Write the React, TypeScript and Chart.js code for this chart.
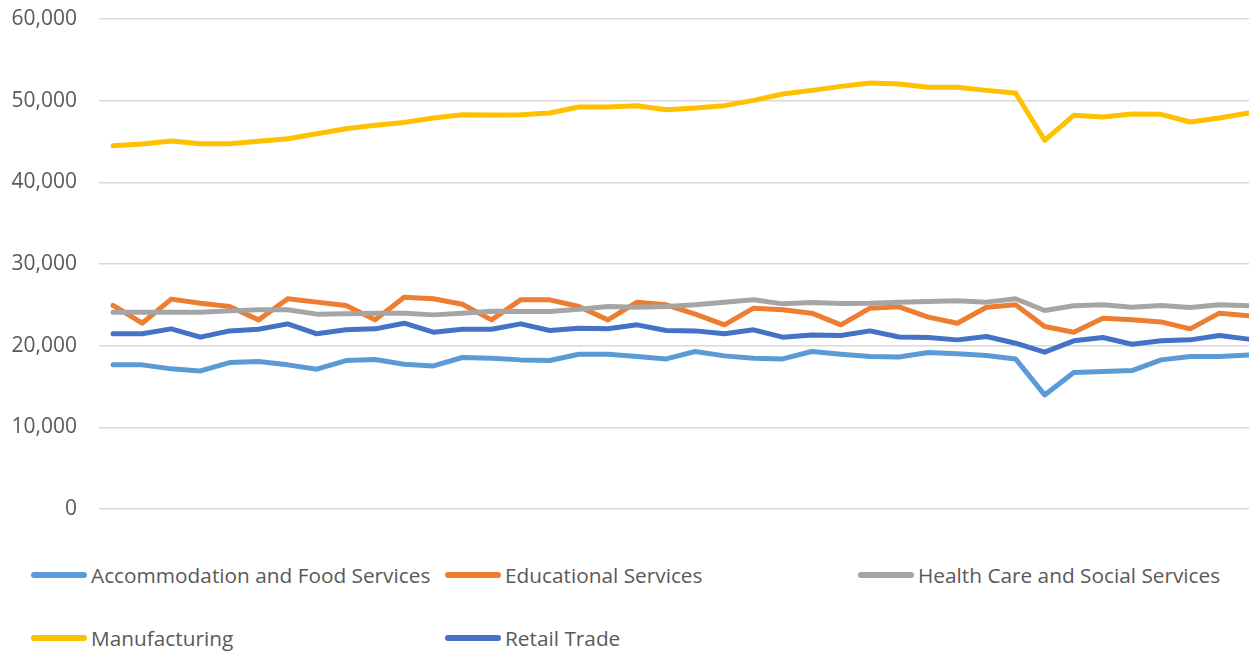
import React, { useEffect, useRef } from "react";
import { Chart, registerables } from "chart.js";

Chart.register(...registerables);

const periods = [
  "1", "2", "3", "4", "5", "6", "7", "8", "9", "10",
  "11", "12", "13", "14", "15", "16", "17", "18", "19", "20",
  "21", "22", "23", "24", "25", "26", "27", "28", "29", "30",
  "31", "32", "33", "34", "35", "36", "37", "38", "39", "40",
];

const accommodation = [
  17650, 17650, 17160, 16910, 17930, 18060, 17650, 17120, 18180, 18300,
  17730, 17520, 18550, 18460, 18260, 18180, 18950, 18950, 18670, 18380,
  19280, 18750, 18460, 18380, 19280, 18950, 18670, 18620, 19160, 19000,
  18790, 18380, 13970, 16710, 16830, 16950, 18260, 18670, 18670, 18870,
];

const educational = [
  24920, 22750, 25700, 25200, 24790, 23160, 25740, 25330, 24920, 23160,
  25940, 25740, 25080, 23160, 25610, 25610, 24790, 23160, 25330, 25000,
  23860, 22550, 24590, 24390, 23980, 22550, 24590, 24750, 23490, 22750,
  24710, 25000, 22340, 21650, 23370, 23160, 22910, 22060, 23980, 23650,
];

const healthCare = [
  24100, 24100, 24100, 24100, 24260, 24390, 24390, 23860, 23900, 23980,
  23980, 23770, 23980, 24220, 24180, 24180, 24470, 24790, 24710, 24790,
  25000, 25330, 25610, 25120, 25290, 25160, 25200, 25330, 25410, 25490,
  25330, 25740, 24300, 24880, 25000, 24710, 24920, 24670, 25000, 24880,
];

const manufacturing = [
  44480, 44690, 45050, 44730, 44730, 45020, 45340, 45950, 46570, 46980,
  47340, 47880, 48280, 48250, 48280, 48490, 49230, 49230, 49390, 48900,
  49100, 49390, 50040, 50820, 51260, 51750, 52170, 52040, 51630, 51630,
  51260, 50940, 45150, 48200, 48000, 48370, 48330, 47390, 47880, 48490,
];

const retailTrade = [
  21450, 21450, 22060, 21040, 21810, 22020, 22670, 21450, 21940, 22060,
  22750, 21650, 22020, 22020, 22670, 21850, 22140, 22060, 22550, 21850,
  21810, 21450, 21940, 21040, 21320, 21240, 21810, 21060, 21000, 20710,
  21120, 20300, 19200, 20590, 21000, 20180, 20590, 20710, 21240, 20800,
];

const seriesNames = [
  "Accommodation and Food Services",
  "Educational Services",
  "Health Care and Social Services",
  "Manufacturing",
  "Retail Trade",
];
const seriesColors = ["#5B9BD5", "#ED7D31", "#A5A5A5", "#FFC000", "#4472C4"];
const seriesValues = [accommodation, educational, healthCare, manufacturing, retailTrade];

const yMin = 0;
const yMax = 60000;
const yStep = 10000;

const FONT = "'Open Sans', 'Noto Sans', sans-serif";
const TEXT_COLOR = "#595959";

export default function App() {
  const canvasRef = useRef<HTMLCanvasElement | null>(null);

  useEffect(() => {
    document.body.style.margin = "0";
    document.body.style.overflow = "hidden";
    const canvas = canvasRef.current;
    if (!canvas) return;
    const n = seriesNames.length;
    const chart = new Chart(canvas, {
      type: "line",
      data: {
        labels: periods,
        datasets: seriesNames.map((name, i) => ({
          label: name,
          data: seriesValues[i],
          borderColor: seriesColors[i],
          backgroundColor: seriesColors[i],
          borderWidth: 5,
          borderCapStyle: "round" as const,
          borderJoinStyle: "round" as const,
          pointRadius: 0,
          tension: 0,
          fill: false,
          order: n - i,
        })),
      },
      options: {
        responsive: true,
        maintainAspectRatio: false,
        animation: false,
        events: [],
        layout: { padding: { top: 19, bottom: 21, left: 0, right: 0 } },
        plugins: {
          legend: { display: false },
          tooltip: { enabled: false },
        },
        scales: {
          x: {
            type: "category",
            display: false,
            offset: true,
            grid: { display: false },
          },
          y: {
            min: yMin,
            max: yMax,
            border: { display: false },
            grid: {
              color: "#D9D9D9",
              lineWidth: 1.5,
              drawTicks: false,
            },
            ticks: {
              stepSize: yStep,
              padding: 21.5,
              color: TEXT_COLOR,
              font: { family: FONT, size: 21 },
              callback: (v: any) => Number(v).toLocaleString("en-US"),
            },
            afterFit: (scale: any) => {
              scale.width = 98.5;
              scale.paddingTop = 0;
              scale.paddingBottom = 0;
            },
          },
        },
      },
    });
    return () => chart.destroy();
  }, []);

  const legendRows = [
    [0, 1, 2],
    [3, 4],
  ];
  const rowCenters = [575, 638];
  const colLefts = [31, 445, 858];

  return (
    <div style={{ position: "relative", width: 1249, height: 652, overflow: "hidden", background: "#fff" }}>
      <div style={{ position: "absolute", left: 0, top: 0, width: 1263, height: 530 }}>
        <canvas ref={canvasRef} />
      </div>
      {legendRows.map((row, r) =>
        row.map((idx, c) => (
          <div
            key={seriesNames[idx]}
            style={{
              position: "absolute",
              left: colLefts[c],
              top: rowCenters[r] - 15,
              height: 30,
              display: "flex",
              alignItems: "center",
              whiteSpace: "nowrap",
              fontFamily: FONT,
              fontSize: 20.8,
              color: TEXT_COLOR,
            }}
          >
            <span
              style={{
                display: "inline-block",
                width: 56,
                height: 6,
                borderRadius: 3,
                background: seriesColors[idx],
                marginRight: 4,
              }}
            />
            <span>{seriesNames[idx]}</span>
          </div>
        ))
      )}
    </div>
  );
}
